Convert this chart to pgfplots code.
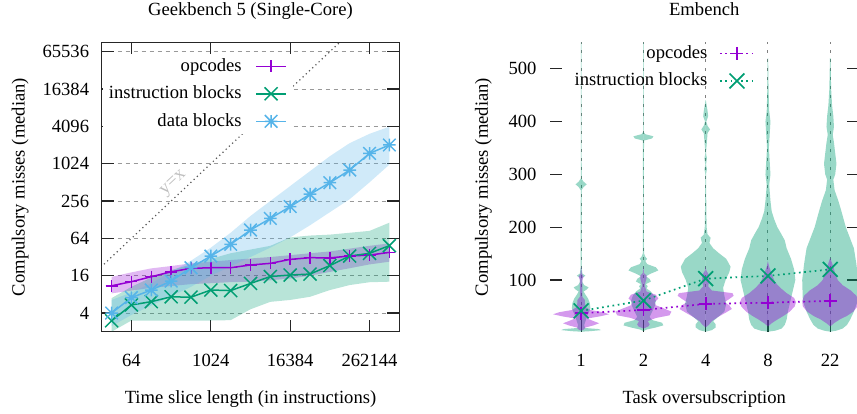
\documentclass[border=0pt]{standalone}
\usepackage{fontspec}
\setmainfont{Liberation Serif}
\usepackage{pgfplots}
\usepackage{pgfplotstable}
\pgfplotsset{compat=1.18}
\usepgfplotslibrary{fillbetween}

\definecolor{opc}{HTML}{9400D3}
\definecolor{ibc}{HTML}{009E73}
\definecolor{dbc}{HTML}{56B4E9}

% gnuplot style star: + and x on top of each other
\pgfdeclareplotmark{gpstar}{%
  \pgfpathmoveto{\pgfqpoint{-\pgfplotmarksize}{0pt}}\pgfpathlineto{\pgfqpoint{\pgfplotmarksize}{0pt}}%
  \pgfpathmoveto{\pgfqpoint{0pt}{-\pgfplotmarksize}}\pgfpathlineto{\pgfqpoint{0pt}{\pgfplotmarksize}}%
  \pgfpathmoveto{\pgfqpoint{-\pgfplotmarksize}{-\pgfplotmarksize}}\pgfpathlineto{\pgfqpoint{\pgfplotmarksize}{\pgfplotmarksize}}%
  \pgfpathmoveto{\pgfqpoint{-\pgfplotmarksize}{\pgfplotmarksize}}\pgfpathlineto{\pgfqpoint{\pgfplotmarksize}{-\pgfplotmarksize}}%
  \pgfusepathqstroke}

\newcommand\myfont{\fontsize{18.6}{22}\selectfont}

% Geekbench: medians and bands (log2 scale)
\pgfplotstableread{
x op oplo ophi ib iblo ibhi db dblo dbhi
32     11.0 8.3  15.3 3.0  2.0   6.96  4.0  2.46  6.5
64     12.8 9.2  18.1 5.4  3.03  10.6  7.1  3.73  8.57
128    15.4 10.2 21.0 6.1  3.03  14.9  9.4  5.28  12.1
256    18.5 10.9 22.9 7.3  3.03  19.7  13.1 7.46  18.4
512    21.0 11.7 25.3 7.2  3.03  24.3  21.5 10.56 27.9
1024   21.5 12.1 26.9 9.4  3.03  29.9  33.2 16    45.3
2048   21.5 12.6 28.6 9.2  3.07  36.8  51.3 22.6  78.8
4096   23.8 12.8 30.3 12.0 4.6   42.2  87.2 32    147
8192   25.3 13.5 32.0 15.5 6.06  48.5  134  45.3  256
16384  29.3 14.4 34.3 16.4 6.5   66.3  208  66.3  446
32768  31.2 16.0 36.8 17.0 7.31  71.0  329  104   776
65536  31.0 18.4 39.4 23.3 9.38  73.5  505  169   1351
131072 33.2 21.1 43.7 33.2 11.3  78.8  809  274   2195
262144 34.4 24.3 48.5 36.7 12.55 84.4  1500 512   3104
524288 38.0 26.9 53.1 48.8 12.8  114.5 2048 989   4040
}\geek

% Embench violins: value, half width (in category units)
\pgfplotstableread{
y w
2 0
3 0.15
5 0.32
7 0.28
9 0.06
15 0.05
22 0.07
30 0.09
38 0.12
46 0.15
56 0.14
65 0.11
72 0.07
78 0.04
82 0.09
86 0.12
90 0.05
96 0.02
104 0.02
108 0.07
112 0.02
125 0.008
270 0.006
276 0.04
281 0.09
286 0.04
292 0.006
550 0.004
550 0
}\viba
\pgfplotstableread{
y w
4 0
6 0.04
10 0.07
14 0.2
18 0.29
22 0.2
27 0.1
31 0.3
35 0.45
39 0.35
43 0.15
48 0.08
56 0.06
62 0.06
68 0.02
100 0.02
106 0.04
112 0.01
125 0
}\vopa
\pgfplotstableread{
y w
3 0
6 0.05
10 0.2
14 0.32
19 0.3
24 0.14
30 0.1
40 0.14
50 0.18
60 0.2
70 0.17
78 0.12
84 0.05
88 0.07
92 0.04
97 0.12
102 0.1
107 0.04
112 0.12
118 0.24
124 0.2
130 0.06
136 0.03
140 0.06
144 0.03
150 0.01
250 0.005
364 0.01
368 0.14
372 0.16
376 0.03
380 0.005
550 0.004
550 0
}\vibb
\pgfplotstableread{
y w
8 0
12 0.08
16 0.1
22 0.07
28 0.2
33 0.42
40 0.45
45 0.35
52 0.2
58 0.18
65 0.24
72 0.2
78 0.05
90 0.02
103 0.05
108 0.05
113 0.01
125 0
}\vopb
\pgfplotstableread{
y w
2 0
5 0.1
10 0.16
16 0.16
22 0.12
30 0.2
40 0.3
55 0.33
70 0.3
85 0.28
100 0.32
115 0.38
125 0.4
140 0.33
150 0.22
160 0.12
170 0.06
180 0.08
186 0.03
200 0.015
240 0.01
300 0.005
310 0.02
318 0.005
330 0.02
340 0.005
378 0.03
385 0.07
392 0.03
400 0.01
410 0.04
420 0.03
440 0.003
440 0
}\vibc
\pgfplotstableread{
y w
10 0
15 0.05
22 0.1
30 0.2
38 0.32
45 0.42
52 0.38
58 0.3
64 0.38
70 0.45
75 0.43
80 0.1
88 0.04
100 0.06
110 0.05
118 0.01
125 0
}\vopc
\pgfplotstableread{
y w
2 0
4 0.12
8 0.22
15 0.27
25 0.3
40 0.32
60 0.36
80 0.4
100 0.44
120 0.42
140 0.37
160 0.3
175 0.27
190 0.2
200 0.15
215 0.1
230 0.06
250 0.04
280 0.02
300 0.04
320 0.03
350 0.015
380 0.03
400 0.04
420 0.02
460 0.01
520 0.003
520 0
}\vibd
\pgfplotstableread{
y w
12 0
18 0.06
25 0.15
32 0.25
40 0.35
50 0.43
58 0.45
66 0.42
75 0.3
85 0.2
95 0.12
105 0.08
115 0.05
125 0.02
135 0
}\vopd
\pgfplotstableread{
y w
2 0
4 0.1
8 0.2
15 0.27
25 0.32
40 0.38
60 0.44
100 0.45
130 0.42
160 0.38
200 0.25
230 0.18
250 0.13
270 0.07
290 0.05
300 0.08
320 0.1
340 0.08
360 0.06
375 0.04
390 0.06
410 0.05
430 0.03
460 0.015
520 0.004
520 0
}\vibe
\pgfplotstableread{
y w
12 0
18 0.06
25 0.15
32 0.27
40 0.37
50 0.44
60 0.45
70 0.42
80 0.33
90 0.2
100 0.12
112 0.08
125 0.05
135 0.02
142 0
}\vope

% one violin = two mirrored halves
\newcommand\violin[3]{%
  \addplot[#3, draw=none, forget plot] table[x expr={#2+\thisrow{w}}, y=y] {#1};
  \addplot[#3, draw=none, forget plot] table[x expr={#2-\thisrow{w}}, y=y] {#1};
}

\pgfplotsset{
  gp/.style={
    scale only axis,
    height=289.4pt,
    font=\myfont,
    every tick label/.append style={font=\myfont},
    /pgf/number format/assume math mode=true,
    major tick length=12pt,
    tick style={black!85, line width=1.2pt},
    axis line style={black!85, line width=1.4pt},
    xticklabel style={anchor=base, yshift=-35pt, inner sep=0pt},
    title style={at={(0.5,1)}, anchor=base, yshift=21pt, inner sep=0pt},
    xlabel style={at={(axis description cs:0.5,0)}, anchor=base, yshift=-72pt, inner sep=0pt},
    legend cell align=right,
    legend plot pos=right,
  },
}

\begin{document}
\myfont
\begin{tikzpicture}
\begin{axis}[gp,
  at={(0pt,0pt)}, anchor=south west,
  width=297.6pt,
  xmode=log, ymode=log, log basis x=2, log basis y=2,
  xmin=22.627, xmax=741455, ymin=2, ymax=92682,
  xtick={64,1024,16384,262144}, xticklabels={64,1024,16384,262144},
  ytick={4,16,64,256,1024,4096,16384,65536},
  yticklabels={4,16,64,256,1024,4096,16384,65536},
  xminorticks=false, yminorticks=false,
  ymajorgrids,
  grid style={black!40, dash pattern=on 4pt off 4pt, line width=0.9pt},
  yticklabel style={anchor=east, xshift=-12.4pt, inner sep=0pt},
  title={Geekbench 5 (Single-Core)},
  xlabel={Time slice length (in instructions)},
  ylabel={Compulsory misses (median)},
  ylabel style={at={(axis description cs:-0.2594,0.5)}, anchor=base, inner sep=0pt},
  legend style={at={(0.643,0.96)}, anchor=north east, draw=none, fill=white,
    inner xsep=6pt, inner ysep=3pt, row sep=9pt,
    nodes={inner sep=0pt, text height=14pt, text depth=4.5pt},
    /tikz/every odd column/.append style={column sep=13.7pt}},
  legend image code/.code={\draw[mark repeat=2,mark phase=2,#1] plot coordinates {(0pt,0pt) (15pt,0pt) (30pt,0pt)};},
]
  \addplot[name path=oplo, draw=none, forget plot] table[x=x, y=oplo] {\geek};
  \addplot[name path=ophi, draw=none, forget plot] table[x=x, y=ophi] {\geek};
  \addplot[fill=opc, fill opacity=0.28, forget plot] fill between[of=oplo and ophi];
  \addplot[name path=iblo, draw=none, forget plot] table[x=x, y=iblo] {\geek};
  \addplot[name path=ibhi, draw=none, forget plot] table[x=x, y=ibhi] {\geek};
  \addplot[fill=ibc, fill opacity=0.28, forget plot] fill between[of=iblo and ibhi];
  \addplot[name path=dblo, draw=none, forget plot] table[x=x, y=dblo] {\geek};
  \addplot[name path=dbhi, draw=none, forget plot] table[x=x, y=dbhi] {\geek};
  \addplot[fill=dbc, fill opacity=0.28, forget plot] fill between[of=dblo and dbhi];

  \addplot[black!65, line width=1.2pt, dash pattern=on 1.2pt off 3.2pt, forget plot]
    coordinates {(8,8) (262144,262144)};
  \node[rotate=43.2, text=black!25, inner sep=0pt] at (axis cs:282,491) {y=x};

  \addplot[opc, line width=1.5pt, mark=+, mark size=6pt] table[x=x, y=op] {\geek};
  \addlegendentry{opcodes}
  \addplot[ibc, line width=1.5pt, mark=x, mark size=9.2pt] table[x=x, y=ib] {\geek};
  \addlegendentry{instruction blocks}
  \addplot[dbc, line width=1.5pt, mark=gpstar, mark size=6.3pt] table[x=x, y=db] {\geek};
  \addlegendentry{data blocks}
\end{axis}

\begin{axis}[gp,
  at={(448.3pt,0pt)}, anchor=south west,
  width=308.5pt,
  xmin=0.5, xmax=5.454, ymin=2, ymax=550,
  xtick={1,2,3,4,5}, xticklabels={1,2,4,8,22},
  ytick={100,200,300,400,500},
  xtick pos=bottom,
  x axis line style={draw=none},
  xmajorgrids,
  grid style={black!50, dash pattern=on 3pt off 6pt, line width=1pt},
  yticklabel style={anchor=east, xshift=-13.3pt, inner sep=0pt},
  title={Embench},
  xlabel={Task oversubscription},
  ylabel={Compulsory misses (median)},
  ylabel style={at={(axis description cs:-0.201,0.5)}, anchor=base, inner sep=0pt},
  legend style={at={(0.6645,0.994)}, anchor=north east, draw=none, fill=none,
    inner sep=0pt, row sep=9pt,
    nodes={inner sep=0pt, text height=14pt, text depth=4.5pt},
    /tikz/every odd column/.append style={column sep=11.7pt}},
  legend image code/.code={\draw[mark repeat=2,mark phase=2,#1] plot coordinates {(0pt,0pt) (17pt,0pt) (34pt,0pt)};},
]
  \violin{\viba}{1}{fill=ibc, fill opacity=0.4}
  \violin{\vibb}{2}{fill=ibc, fill opacity=0.4}
  \violin{\vibc}{3}{fill=ibc, fill opacity=0.4}
  \violin{\vibd}{4}{fill=ibc, fill opacity=0.4}
  \violin{\vibe}{5}{fill=ibc, fill opacity=0.4}
  \violin{\vopa}{1}{fill=opc, fill opacity=0.4}
  \violin{\vopb}{2}{fill=opc, fill opacity=0.4}
  \violin{\vopc}{3}{fill=opc, fill opacity=0.4}
  \violin{\vopd}{4}{fill=opc, fill opacity=0.4}
  \violin{\vope}{5}{fill=opc, fill opacity=0.4}

  \addplot[opc, line width=1.7pt, dash pattern=on 1.7pt off 3.6pt, mark=+, mark size=6.5pt, mark options={solid}]
    coordinates {(1,37) (2,43.3) (3,54.6) (4,57) (5,60.3)};
  \addlegendentry{opcodes}
  \addplot[ibc, line width=1.7pt, dash pattern=on 1.7pt off 3.6pt, mark=x, mark size=10.5pt, mark options={solid}]
    coordinates {(1,41.4) (2,61) (3,102.5) (4,107.6) (5,120)};
  \addlegendentry{instruction blocks}
\end{axis}
\pgfresetboundingbox
\path[use as bounding box] (-101.7pt,-81.3pt) rectangle (755.3pt,331.7pt);
\end{tikzpicture}
\end{document}
